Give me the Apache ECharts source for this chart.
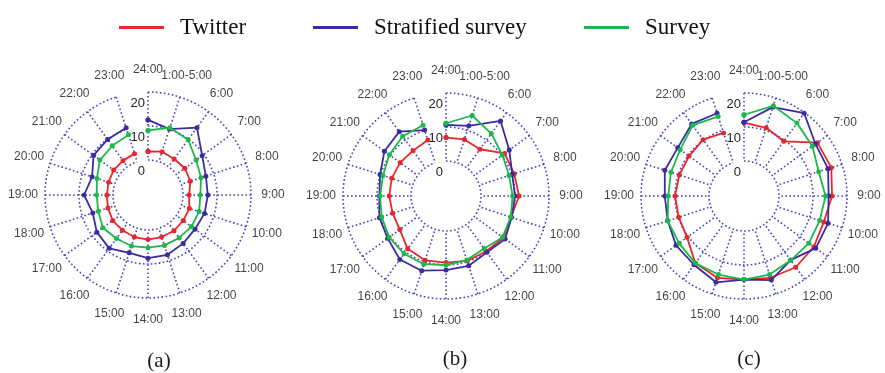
<!DOCTYPE html>
<html><head><meta charset="utf-8">
<script src="https://cdn.jsdelivr.net/npm/echarts@6/dist/echarts.min.js"></script>
<style>html,body{margin:0;padding:0;background:#fff}#c{width:885px;height:373px}</style>
</head><body><div id="c"></div>
<script>
const categories = ['24:00','1:00-5:00','6:00','7:00','8:00','9:00','10:00','11:00','12:00','13:00','14:00','15:00','16:00','17:00','18:00','19:00','20:00','21:00','22:00','23:00'];
const radialMin = 0, radialMax = 20, radialStep = 10;
const panelLabels = ['(a)','(b)','(c)'];
const seriesNames = ['Twitter','Stratified survey','Survey'];
const seriesColors = ['#e8262b','#3a2c9e','#1cb84a'];

const twitterA = [2.5,3.1,2.8,3.1,2.8,1.8,2.5,2.5,2.7,2.7,2.8,2.7,2.5,2.5,2.1,1.8,1.9,2.2,2.2,2.5];
const stratA   = [11.8,10.1,14.2,9.4,7.6,7.3,7.2,6.8,7.3,8.2,8.3,7.6,9.1,8.3,6.8,8.5,7.0,9.5,9.9,10.5];
const surveyA  = [8.7,10.5,9.8,7.2,6.1,5.1,5.5,5.5,5.3,5.3,5.2,5.5,5.5,6.1,5.1,4.8,5.5,7.2,7.6,8.3];

const twitterB = [6.9,7.2,6.7,11.0,10.8,11.2,9.8,10.6,9.8,9.8,9.3,9.6,8.9,6.5,6.2,6.4,6.5,6.4,6.2,7.0];
const stratB   = [10.6,11.4,17.0,12.7,10.2,10.0,10.0,11.2,10.2,11.3,11.5,12.8,12.8,10.9,10.3,9.3,10.1,12.1,13.1,10.1];
const surveyB  = [11.1,14.6,12.4,10.2,9.2,9.3,9.7,10.3,8.8,9.5,10.0,10.8,10.7,10.4,9.6,9.1,9.2,10.3,11.4,11.6];

const twitterC = [11.3,10.8,9.6,16.4,16.7,15.6,14.4,15.1,15.6,15.0,14.3,15.0,14.1,10.4,9.9,10.0,9.7,9.7,10.2,9.2];
const stratC   = [11.4,17.2,19.8,15.7,15.7,14.6,15.7,15.8,13.0,15.7,14.3,16.4,14.7,14.4,13.3,13.0,14.2,13.8,15.9,15.3];
const surveyC  = [13.6,17.6,16.2,14.6,12.8,13.7,13.1,13.3,13.1,14.0,14.3,14.0,14.1,13.3,13.3,12.0,12.3,12.9,15.4,14.3];

const panels = [
  {values:[twitterA, stratA, surveyA], center:[148,195], title:[154,346]},
  {values:[twitterB, stratB, surveyB], center:[446,196], title:[450,344]},
  {values:[twitterC, stratC, surveyC], center:[744,196], title:[744,344]}
];

const gridColor = '#4444c2';
const dotted = {color: gridColor, type: [1.6, 2.4], width: 1.6};
const chart = echarts.init(document.getElementById('c'), null, {renderer:'canvas'});

const polar = [], angleAxis = [], radiusAxis = [], series = [], title = [];
panels.forEach((p, i) => {
  polar.push({center: p.center, radius: [35, 103]});
  angleAxis.push({polarIndex: i, type:'category', data: categories, boundaryGap:false,
    startAngle: 90, clockwise: true, axisLine:{show:false}, axisTick:{show:false},
    axisLabel:{show:false}, splitLine:{show:true, lineStyle: dotted}});
  radiusAxis.push({polarIndex: i, min: radialMin, max: radialMax, interval: radialStep,
    axisLine:{show:false}, axisTick:{show:false},
    axisLabel:{show:true, color:'#222', fontSize:13, fontFamily:'Liberation Sans, Arial, sans-serif',
      verticalAlign:'top', align:'right', margin:3, padding:[5,0,0,0]},
    splitLine:{show:true, lineStyle: dotted}});
  p.values.forEach((vals, s) => {
    const data = categories.map((c, k) => [vals[k], c]);
    data.push([vals[0], categories[0]]);
    series.push({type:'line', name: seriesNames[s], coordinateSystem:'polar', polarIndex: i,
      data: data, symbol:'circle', symbolSize:5, showSymbol:true,
      lineStyle:{color: seriesColors[s], width:1.8}, itemStyle:{color: seriesColors[s]},
      z: 3 + s, silent:true, animation:false});
  });
  title.push({text: panelLabels[i], left: p.title[0], top: p.title[1], textAlign:'center',
    textStyle:{fontFamily:'Liberation Serif, Times New Roman, serif', fontSize:21, fontWeight:'normal', color:'#1a1a1a'}});
});
// category labels centred on a circle outside the grid
panels.forEach((p, i) => {
  const pi = 3 + i;
  polar.push({center: p.center, radius: [0, 125]});
  angleAxis.push({polarIndex: pi, type:'category', data: categories, boundaryGap:false,
    startAngle: 90, clockwise:true, show:false, axisLine:{show:false}, axisTick:{show:false},
    axisLabel:{show:false}, splitLine:{show:false}});
  radiusAxis.push({polarIndex: pi, min:0, max:1, show:false, axisLine:{show:false},
    axisTick:{show:false}, axisLabel:{show:false}, splitLine:{show:false}});
  series.push({type:'scatter', coordinateSystem:'polar', polarIndex: pi, clip:false, silent:true,
    data: categories.map(c => [1, c]), symbolSize:1, itemStyle:{color:'rgba(0,0,0,0)'},
    label:{show:true, position:'inside', formatter: q => q.data[1], color:'#111', fontSize:12,
      fontFamily:'Liberation Sans, Arial, sans-serif'}, animation:false});
});

const legendStarts = [114, 308, 579];
const legend = seriesNames.map((n, s) => ({
  data:[n], left: legendStarts[s], top: 11, icon:'rect', itemWidth:45, itemHeight:3,
  selectedMode:false,
  textStyle:{fontFamily:'Liberation Serif, Times New Roman, serif', fontSize:23, color:'#111', padding:[0,0,0,11]}
}));

chart.setOption({animation:false, backgroundColor:'#fff', title, legend, polar, angleAxis, radiusAxis, series});
</script></body></html>
